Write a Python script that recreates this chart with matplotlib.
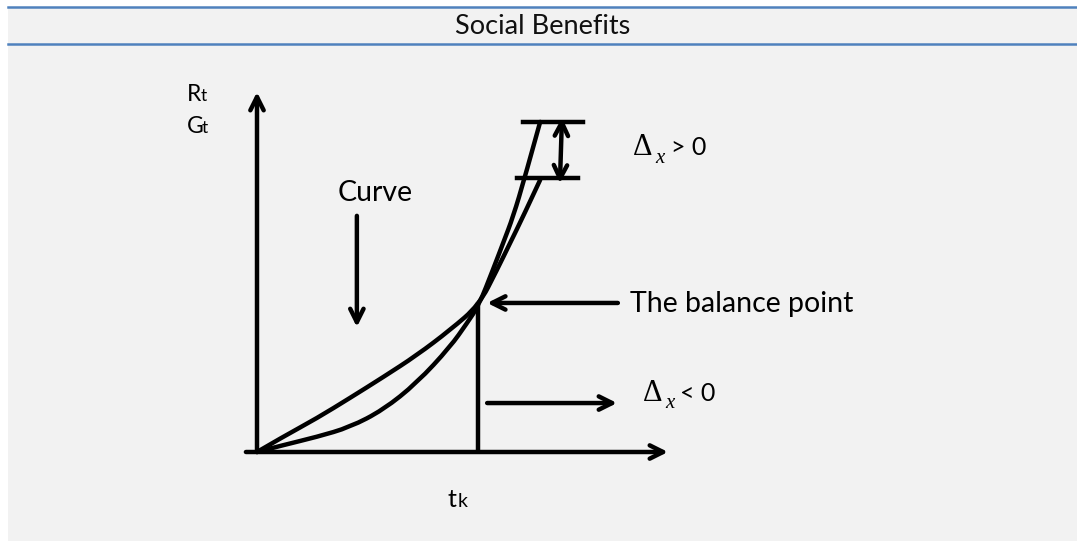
import matplotlib
matplotlib.use('Agg')
from matplotlib import pyplot as plt
from matplotlib.patches import Rectangle, PathPatch
from matplotlib.lines import Line2D
from matplotlib.path import Path

# figure size in pixels
W, H = 1077, 544

# diagram values (t along the x axis, value along the y axis, 0..10 each)
curve_a_t = [0, 0.63, 1.46, 2.26, 3.07, 3.89, 4.70, 5.40, 5.84, 6.16, 6.47, 6.89]
curve_a_v = [0, 0.42, 0.94, 1.50, 2.08, 2.69, 3.39, 4.08, 5.06, 5.81, 6.53, 7.56]

curve_b_t = [0, 0.63, 1.46, 2.26, 3.07, 3.89, 4.70, 5.11, 5.40, 5.74, 5.99, 6.23, 6.52, 6.89]
curve_b_v = [0, 0.19, 0.42, 0.69, 1.17, 1.92, 2.92, 3.58, 4.08, 5.06, 5.81, 6.53, 7.64, 9.17]

balance_t, balance_v = 5.38, 4.08
top_level, top_span = 9.17, (6.47, 7.93)
low_level, low_span = 7.61, (6.33, 7.82)
gap_t = 7.42

FONT = 'Lato'
SERIF = 'Liberation Serif'
BLUE = '#4f81bd'
GREY = '#f2f2f2'


def fx(x):
    return x / W


def fy(y):
    return 1 - y / H


# smooth a list of read points with quadratic segments (points act as control points)
def smooth_path(ts, vs):
    pts = list(zip(ts, vs))
    verts = [pts[0]]
    codes = [Path.MOVETO]
    for i in range(1, len(pts) - 1):
        mid = ((pts[i][0] + pts[i + 1][0]) / 2, (pts[i][1] + pts[i + 1][1]) / 2)
        if i == len(pts) - 2:
            mid = pts[-1]
        verts += [pts[i], mid]
        codes += [Path.CURVE3, Path.CURVE3]
    return Path(verts, codes)


fig = plt.figure(figsize=(W / 100, H / 100), dpi=100)
fig.patch.set_facecolor('white')

# grey panel + title band
fig.add_artist(Rectangle((fx(8), fy(541)), 1 - fx(8), fy(7) - fy(541),
                         transform=fig.transFigure, facecolor=GREY, edgecolor='none', zorder=0))
for yy in (7, 44):
    fig.add_artist(Line2D([fx(8), 1], [fy(yy), fy(yy)], transform=fig.transFigure,
                          color=BLUE, lw=1.8, zorder=1))
fig.text(0.5 + fx(8) / 2, fy(26), 'Social Benefits', ha='center', va='center',
         fontsize=19.5, family=FONT, color='#111111')

# diagram axes: origin at the arrow corner
ax = fig.add_axes([fx(257), fy(452), (668 - 257) / W, (452 - 92) / H])
ax.set_xlim(0, 10)
ax.set_ylim(0, 10)
ax.axis('off')

lw = 3.2
arrow = dict(arrowstyle='->', lw=lw, color='black', mutation_scale=24,
             shrinkA=0, shrinkB=0)

# axes arrows
ax.annotate('', xy=(10, 0), xytext=(-0.27, 0), arrowprops=arrow, annotation_clip=False)
ax.annotate('', xy=(0, 10), xytext=(0, 0), arrowprops=arrow, annotation_clip=False)

# the two curves
for ts, vs in ((curve_a_t, curve_a_v), (curve_b_t, curve_b_v)):
    ax.add_patch(PathPatch(smooth_path(ts, vs), facecolor='none', edgecolor='black',
                           lw=lw, capstyle='round', joinstyle='round', clip_on=False))

# vertical at t_k
ax.plot([balance_t, balance_t], [0, balance_v], color='black', lw=lw)

# horizontal marks and gap arrow
ax.plot(top_span, [top_level, top_level], color='black', lw=lw, clip_on=False)
ax.plot(low_span, [low_level, low_level], color='black', lw=lw, clip_on=False)
dbl = dict(arrow)
dbl['arrowstyle'] = '<->'
ax.annotate('', xy=(gap_t, top_level + 0.12), xytext=(gap_t - 0.05, low_level - 0.15),
            arrowprops=dbl, annotation_clip=False)

# pointer arrows
ax.annotate('', xy=(2.43, 3.47), xytext=(2.43, 6.56), arrowprops=arrow)
ax.annotate('', xy=(5.60, 4.14), xytext=(8.78, 4.14), arrowprops=arrow)
ax.annotate('', xy=(8.76, 1.36), xytext=(5.60, 1.36), arrowprops=arrow)

# labels
fig.text(fx(338), fy(201), 'Curve', fontsize=20.5, family=FONT, va='baseline')
fig.text(fx(630), fy(312), 'The balance point', fontsize=20.5, family=FONT, va='baseline')

fig.text(fx(187), fy(101), 'R', fontsize=16.5, family=FONT, va='baseline')
fig.text(fx(201), fy(101), 't', fontsize=12.5, family=FONT, va='baseline')
fig.text(fx(187), fy(133), 'G', fontsize=16.5, family=FONT, va='baseline')
fig.text(fx(202), fy(133), 't', fontsize=12.5, family=FONT, va='baseline')
fig.text(fx(447), fy(507), 't', fontsize=18, family=FONT, va='baseline')
fig.text(fx(458), fy(507), 'k', fontsize=14, family=FONT, va='baseline')

# delta labels
fig.text(fx(633), fy(155), '\u0394', fontsize=22, family=SERIF, va='baseline')
fig.text(fx(655), fy(163), 'x', fontsize=15, family=SERIF, style='italic', va='baseline')
fig.text(fx(671), fy(155), '> 0', fontsize=18, family=FONT, va='baseline')

fig.text(fx(643), fy(401), '\u0394', fontsize=22, family=SERIF, va='baseline')
fig.text(fx(665), fy(408), 'x', fontsize=15, family=SERIF, style='italic', va='baseline')
fig.text(fx(680), fy(401), '< 0', fontsize=18, family=FONT, va='baseline')

fig.savefig('out.png', dpi=100, facecolor=fig.get_facecolor())
